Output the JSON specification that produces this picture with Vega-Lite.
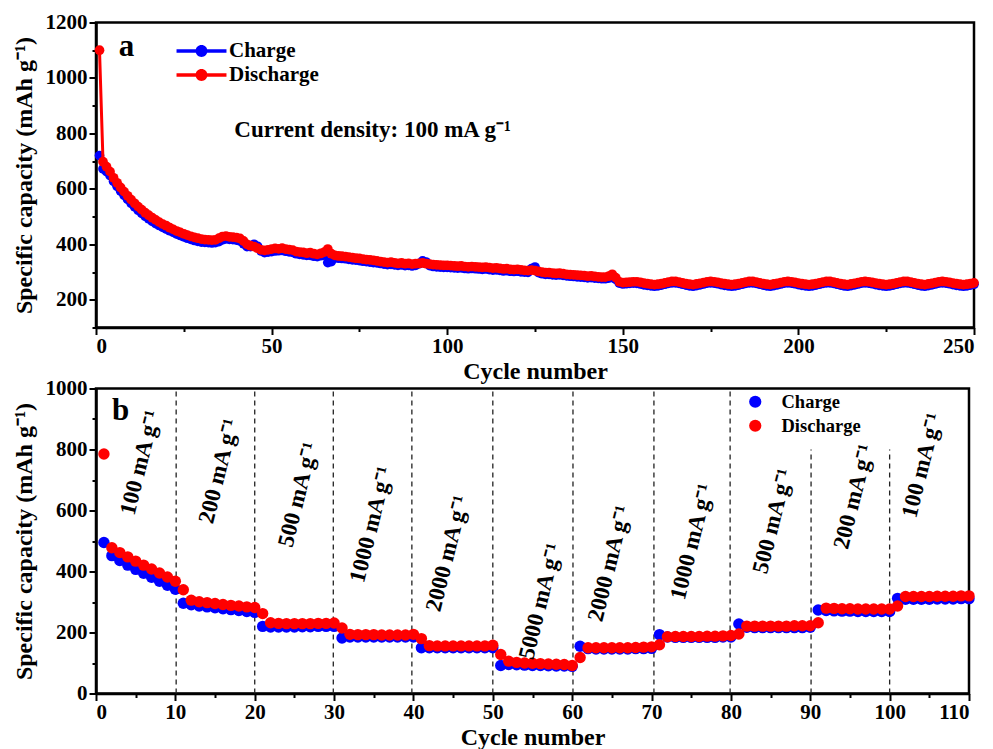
{
"$schema": "https://vega.github.io/schema/vega-lite/v6.json",
"background": "white",
"padding": {"left": 10, "top": 9.5, "right": 5, "bottom": 0},
"bounds": "flush",
"spacing": 61,
"config": {
  "font": "Liberation Serif",
  "view": {"stroke": "black", "strokeWidth": 2.5},
  "axis": {"labelFont": "Liberation Serif", "labelFontWeight": "bold", "labelFontSize": 21, "labelColor": "black", "titleFont": "Liberation Serif", "titleFontWeight": "bold", "titleFontSize": 24, "titleColor": "black", "domainColor": "black", "domainWidth": 2.5, "tickColor": "black", "tickWidth": 2, "grid": false, "labelOverlap": false, "format": "d", "tickCount": 60},
  "legend": {"labelFont": "Liberation Serif", "labelFontWeight": "bold", "labelColor": "black", "padding": 0, "title": null}
},
"resolve": {"scale": {"color": "independent"}, "legend": {"color": "independent"}},
"vconcat": [
{
  "width": 878, "height": 305,
  "data": {"values": [
{"c":1,"ch":720,"dc":1100},{"c":2,"ch":672,"dc":698},{"c":3,"ch":662,"dc":680},{"c":4,"ch":648,"dc":662},{"c":5,"ch":627,"dc":640},{"c":6,"ch":609,"dc":622},{"c":7,"ch":592,"dc":605},{"c":8,"ch":577,"dc":590},{"c":9,"ch":562,"dc":575},{"c":10,"ch":548,"dc":561},
{"c":11,"ch":535,"dc":548},{"c":12,"ch":523,"dc":536},{"c":13,"ch":512,"dc":525},{"c":14,"ch":501,"dc":514},{"c":15,"ch":492,"dc":505},{"c":16,"ch":483,"dc":496},{"c":17,"ch":475,"dc":488},{"c":18,"ch":468,"dc":480},{"c":19,"ch":461,"dc":473},{"c":20,"ch":455,"dc":467},
{"c":21,"ch":449,"dc":460},{"c":22,"ch":443,"dc":454},{"c":23,"ch":437,"dc":448},{"c":24,"ch":432,"dc":443},{"c":25,"ch":427,"dc":438},{"c":26,"ch":422,"dc":433},{"c":27,"ch":418,"dc":429},{"c":28,"ch":414,"dc":425},{"c":29,"ch":411,"dc":422},{"c":30,"ch":408,"dc":419},
{"c":31,"ch":407,"dc":417},{"c":32,"ch":406,"dc":416},{"c":33,"ch":405,"dc":415},{"c":34,"ch":406,"dc":416},{"c":35,"ch":410,"dc":422},{"c":36,"ch":416,"dc":428},{"c":37,"ch":420,"dc":430},{"c":38,"ch":418,"dc":427},{"c":39,"ch":417,"dc":426},{"c":40,"ch":415,"dc":424},
{"c":41,"ch":412,"dc":421},{"c":42,"ch":402,"dc":412},{"c":43,"ch":392,"dc":400},{"c":44,"ch":392,"dc":395},{"c":45,"ch":400,"dc":392},{"c":46,"ch":393,"dc":386},{"c":47,"ch":376,"dc":380},{"c":48,"ch":370,"dc":378},{"c":49,"ch":372,"dc":380},{"c":50,"ch":374,"dc":383},
{"c":51,"ch":376,"dc":385},{"c":52,"ch":377,"dc":384},{"c":53,"ch":378,"dc":386},{"c":54,"ch":375,"dc":383},{"c":55,"ch":373,"dc":381},{"c":56,"ch":371,"dc":379},{"c":57,"ch":366,"dc":374},{"c":58,"ch":364,"dc":372},{"c":59,"ch":362,"dc":371},{"c":60,"ch":360,"dc":368},
{"c":61,"ch":360,"dc":370},{"c":62,"ch":357,"dc":366},{"c":63,"ch":356,"dc":364},{"c":64,"ch":359,"dc":367},{"c":65,"ch":362,"dc":372},{"c":66,"ch":334,"dc":383},{"c":67,"ch":338,"dc":366},{"c":68,"ch":352,"dc":360},{"c":69,"ch":350,"dc":358},{"c":70,"ch":349,"dc":357},
{"c":71,"ch":348,"dc":356},{"c":72,"ch":346,"dc":354},{"c":73,"ch":344,"dc":352},{"c":74,"ch":343,"dc":350},{"c":75,"ch":341,"dc":349},{"c":76,"ch":339,"dc":347},{"c":77,"ch":338,"dc":345},{"c":78,"ch":336,"dc":344},{"c":79,"ch":334,"dc":342},{"c":80,"ch":333,"dc":340},
{"c":81,"ch":331,"dc":338},{"c":82,"ch":329,"dc":336},{"c":83,"ch":327,"dc":334},{"c":84,"ch":328,"dc":336},{"c":85,"ch":326,"dc":333},{"c":86,"ch":324,"dc":331},{"c":87,"ch":326,"dc":333},{"c":88,"ch":323,"dc":330},{"c":89,"ch":324,"dc":331},{"c":90,"ch":322,"dc":329},
{"c":91,"ch":324,"dc":330},{"c":92,"ch":330,"dc":331},{"c":93,"ch":340,"dc":333},{"c":94,"ch":336,"dc":330},{"c":95,"ch":323,"dc":329},{"c":96,"ch":320,"dc":327},{"c":97,"ch":319,"dc":326},{"c":98,"ch":318,"dc":325},{"c":99,"ch":317,"dc":324},{"c":100,"ch":317,"dc":324},
{"c":101,"ch":316,"dc":323},{"c":102,"ch":315,"dc":322},{"c":103,"ch":314,"dc":321},{"c":104,"ch":315,"dc":322},{"c":105,"ch":313,"dc":320},{"c":106,"ch":312,"dc":319},{"c":107,"ch":313,"dc":320},{"c":108,"ch":312,"dc":319},{"c":109,"ch":311,"dc":318},{"c":110,"ch":310,"dc":317},
{"c":111,"ch":311,"dc":318},{"c":112,"ch":309,"dc":316},{"c":113,"ch":307,"dc":314},{"c":114,"ch":308,"dc":315},{"c":115,"ch":306,"dc":313},{"c":116,"ch":304,"dc":311},{"c":117,"ch":305,"dc":312},{"c":118,"ch":303,"dc":310},{"c":119,"ch":302,"dc":309},{"c":120,"ch":303,"dc":310},
{"c":121,"ch":301,"dc":308},{"c":122,"ch":300,"dc":306},{"c":123,"ch":299,"dc":305},{"c":124,"ch":312,"dc":307},{"c":125,"ch":318,"dc":305},{"c":126,"ch":298,"dc":302},{"c":127,"ch":294,"dc":300},{"c":128,"ch":292,"dc":298},{"c":129,"ch":292,"dc":298},{"c":130,"ch":290,"dc":296},
{"c":131,"ch":289,"dc":295},{"c":132,"ch":290,"dc":296},{"c":133,"ch":288,"dc":294},{"c":134,"ch":286,"dc":292},{"c":135,"ch":285,"dc":291},{"c":136,"ch":284,"dc":290},{"c":137,"ch":283,"dc":289},{"c":138,"ch":282,"dc":288},{"c":139,"ch":281,"dc":287},{"c":140,"ch":279,"dc":285},
{"c":141,"ch":280,"dc":286},{"c":142,"ch":278,"dc":284},{"c":143,"ch":277,"dc":283},{"c":144,"ch":276,"dc":282},{"c":145,"ch":276,"dc":282},{"c":146,"ch":278,"dc":285},{"c":147,"ch":280,"dc":292},{"c":148,"ch":274,"dc":280},{"c":149,"ch":260,"dc":265},{"c":150,"ch":257,"dc":262},
{"c":151,"ch":258,"dc":263},{"c":152,"ch":259,"dc":264},{"c":153,"ch":260,"dc":265},{"c":154,"ch":259,"dc":265},{"c":155,"ch":257,"dc":263},{"c":156,"ch":254,"dc":260},{"c":157,"ch":252,"dc":258},{"c":158,"ch":250,"dc":256},{"c":159,"ch":249,"dc":255},{"c":160,"ch":250,"dc":256},
{"c":161,"ch":253,"dc":258},{"c":162,"ch":256,"dc":261},{"c":163,"ch":259,"dc":264},{"c":164,"ch":261,"dc":266},{"c":165,"ch":261,"dc":266},{"c":166,"ch":259,"dc":264},{"c":167,"ch":256,"dc":261},{"c":168,"ch":253,"dc":258},{"c":169,"ch":250,"dc":256},{"c":170,"ch":249,"dc":255},
{"c":171,"ch":251,"dc":257},{"c":172,"ch":254,"dc":259},{"c":173,"ch":257,"dc":262},{"c":174,"ch":260,"dc":265},{"c":175,"ch":261,"dc":266},{"c":176,"ch":260,"dc":265},{"c":177,"ch":258,"dc":263},{"c":178,"ch":255,"dc":260},{"c":179,"ch":252,"dc":258},{"c":180,"ch":250,"dc":256},
{"c":181,"ch":249,"dc":255},{"c":182,"ch":250,"dc":256},{"c":183,"ch":253,"dc":258},{"c":184,"ch":256,"dc":261},{"c":185,"ch":259,"dc":264},{"c":186,"ch":261,"dc":266},{"c":187,"ch":261,"dc":266},{"c":188,"ch":259,"dc":264},{"c":189,"ch":256,"dc":261},{"c":190,"ch":253,"dc":258},
{"c":191,"ch":250,"dc":256},{"c":192,"ch":249,"dc":255},{"c":193,"ch":251,"dc":257},{"c":194,"ch":254,"dc":259},{"c":195,"ch":257,"dc":262},{"c":196,"ch":260,"dc":265},{"c":197,"ch":261,"dc":266},{"c":198,"ch":260,"dc":265},{"c":199,"ch":258,"dc":263},{"c":200,"ch":255,"dc":260},
{"c":201,"ch":252,"dc":258},{"c":202,"ch":250,"dc":256},{"c":203,"ch":249,"dc":255},{"c":204,"ch":250,"dc":256},{"c":205,"ch":253,"dc":258},{"c":206,"ch":256,"dc":261},{"c":207,"ch":259,"dc":264},{"c":208,"ch":261,"dc":266},{"c":209,"ch":261,"dc":266},{"c":210,"ch":259,"dc":264},
{"c":211,"ch":256,"dc":261},{"c":212,"ch":253,"dc":258},{"c":213,"ch":250,"dc":256},{"c":214,"ch":249,"dc":255},{"c":215,"ch":251,"dc":257},{"c":216,"ch":254,"dc":259},{"c":217,"ch":257,"dc":262},{"c":218,"ch":260,"dc":265},{"c":219,"ch":261,"dc":266},{"c":220,"ch":260,"dc":265},
{"c":221,"ch":258,"dc":263},{"c":222,"ch":255,"dc":260},{"c":223,"ch":252,"dc":258},{"c":224,"ch":250,"dc":256},{"c":225,"ch":249,"dc":255},{"c":226,"ch":250,"dc":256},{"c":227,"ch":253,"dc":258},{"c":228,"ch":256,"dc":261},{"c":229,"ch":259,"dc":264},{"c":230,"ch":261,"dc":266},
{"c":231,"ch":261,"dc":266},{"c":232,"ch":259,"dc":264},{"c":233,"ch":256,"dc":261},{"c":234,"ch":253,"dc":258},{"c":235,"ch":250,"dc":256},{"c":236,"ch":249,"dc":255},{"c":237,"ch":251,"dc":257},{"c":238,"ch":254,"dc":259},{"c":239,"ch":257,"dc":262},{"c":240,"ch":260,"dc":265},
{"c":241,"ch":261,"dc":266},{"c":242,"ch":260,"dc":265},{"c":243,"ch":258,"dc":263},{"c":244,"ch":255,"dc":260},{"c":245,"ch":252,"dc":258},{"c":246,"ch":250,"dc":256},{"c":247,"ch":249,"dc":255},{"c":248,"ch":250,"dc":256},{"c":249,"ch":253,"dc":258},{"c":250,"ch":256,"dc":261}
  ]},
  "encoding": {
    "x": {"field": "c", "type": "quantitative", "scale": {"domain": [0, 250], "nice": false}, "title": "Cycle number",
      "axis": {"values": [0,25,50,75,100,125,150,175,200,225,250], "tickCount": 60, "labelExpr": "datum.value % 50 === 0 ? datum.label : ''", "tickSize": {"condition": {"test": "datum.value % 50 === 0", "value": 7}, "value": 4}, "labelPadding": 1, "titlePadding": 3}}
  },
  "layer": [
    {"mark": {"type": "line", "color": "#0000FF", "strokeWidth": 3},
     "encoding": {"y": {"field": "ch", "type": "quantitative", "scale": {"domain": [100, 1200], "nice": false, "zero": false}, "title": "Specific capacity (mAh g⁻¹)",
       "axis": {"values": [100,200,300,400,500,600,700,800,900,1000,1100,1200], "tickCount": 60, "labelExpr": "datum.value % 200 === 0 ? datum.label : ''", "tickSize": {"condition": {"test": "datum.value % 200 === 0", "value": 7}, "value": 4}, "labelPadding": 2, "titlePadding": 9}}}},
    {"mark": {"type": "point", "filled": true, "size": 95, "opacity": 1},
     "encoding": {"y": {"field": "ch", "type": "quantitative", "title": "Specific capacity (mAh g⁻¹)"},
       "color": {"datum": "Charge", "type": "nominal", "scale": {"domain": ["Charge", "Discharge"], "range": ["#0000FF", "#FF0000"]},
         "legend": {"orient": "none", "legendX": 92, "legendY": 15, "symbolType": "M-1.85,-0.13H1.85V0.13H-1.85Z M0.44,0A0.44,0.44,0,1,1,-0.44,0A0.44,0.44,0,1,1,0.44,0Z", "symbolSize": 729, "symbolStrokeWidth": 0, "labelOffset": 14, "labelFontSize": 21, "rowPadding": 0}}}},
    {"mark": {"type": "line", "color": "#FF0000", "strokeWidth": 3},
     "encoding": {"y": {"field": "dc", "type": "quantitative", "title": "Specific capacity (mAh g⁻¹)"}}},
    {"mark": {"type": "point", "filled": true, "size": 95, "opacity": 1},
     "encoding": {"y": {"field": "dc", "type": "quantitative", "title": "Specific capacity (mAh g⁻¹)"},
       "color": {"datum": "Discharge", "type": "nominal"}}},
    {"data": {"values": [{"c": 8.7, "v": 1112, "t": "a"}]},
     "mark": {"type": "text", "font": "Liberation Serif", "fontWeight": "bold", "fontSize": 31, "align": "center", "baseline": "middle", "color": "black"},
     "encoding": {"y": {"field": "v", "type": "quantitative", "title": "Specific capacity (mAh g⁻¹)"}, "text": {"field": "t", "type": "nominal"}}},
    {"data": {"values": [{"c": 39.4, "v": 811, "t": "Current density: 100 mA g⁻¹"}]},
     "mark": {"type": "text", "font": "Liberation Serif", "fontWeight": "bold", "fontSize": 23, "align": "left", "baseline": "middle", "color": "black"},
     "encoding": {"y": {"field": "v", "type": "quantitative", "title": "Specific capacity (mAh g⁻¹)"}, "text": {"field": "t", "type": "nominal"}}}
  ]
},
{
  "width": 873, "height": 305,
  "data": {"values": [
{"c":1,"ch":495,"dc":785},{"c":2,"ch":452,"dc":478},{"c":3,"ch":436,"dc":462},{"c":4,"ch":421,"dc":448},{"c":5,"ch":407,"dc":434},{"c":6,"ch":394,"dc":421},{"c":7,"ch":381,"dc":408},{"c":8,"ch":368,"dc":395},{"c":9,"ch":355,"dc":382},{"c":10,"ch":342,"dc":368},
{"c":11,"ch":296,"dc":340},{"c":12,"ch":291,"dc":306},{"c":13,"ch":287,"dc":301},{"c":14,"ch":284,"dc":298},{"c":15,"ch":281,"dc":295},{"c":16,"ch":278,"dc":292},{"c":17,"ch":275,"dc":289},{"c":18,"ch":272,"dc":287},{"c":19,"ch":269,"dc":284},{"c":20,"ch":266,"dc":282},
{"c":21,"ch":220,"dc":262},{"c":22,"ch":218,"dc":232},{"c":23,"ch":218,"dc":230},{"c":24,"ch":218,"dc":229},{"c":25,"ch":218,"dc":229},{"c":26,"ch":219,"dc":229},{"c":27,"ch":219,"dc":229},{"c":28,"ch":220,"dc":230},{"c":29,"ch":220,"dc":230},{"c":30,"ch":220,"dc":231},
{"c":31,"ch":182,"dc":215},{"c":32,"ch":185,"dc":194},{"c":33,"ch":185,"dc":193},{"c":34,"ch":185,"dc":193},{"c":35,"ch":185,"dc":193},{"c":36,"ch":185,"dc":192},{"c":37,"ch":185,"dc":192},{"c":38,"ch":185,"dc":192},{"c":39,"ch":185,"dc":192},{"c":40,"ch":185,"dc":194},
{"c":41,"ch":150,"dc":180},{"c":42,"ch":150,"dc":157},{"c":43,"ch":150,"dc":156},{"c":44,"ch":150,"dc":156},{"c":45,"ch":150,"dc":156},{"c":46,"ch":150,"dc":156},{"c":47,"ch":150,"dc":156},{"c":48,"ch":150,"dc":156},{"c":49,"ch":150,"dc":156},{"c":50,"ch":150,"dc":158},
{"c":51,"ch":92,"dc":128},{"c":52,"ch":95,"dc":106},{"c":53,"ch":94,"dc":102},{"c":54,"ch":93,"dc":100},{"c":55,"ch":92,"dc":99},{"c":56,"ch":92,"dc":98},{"c":57,"ch":91,"dc":97},{"c":58,"ch":90,"dc":96},{"c":59,"ch":90,"dc":95},{"c":60,"ch":89,"dc":92},
{"c":61,"ch":155,"dc":118},{"c":62,"ch":147,"dc":150},{"c":63,"ch":146,"dc":150},{"c":64,"ch":146,"dc":150},{"c":65,"ch":146,"dc":150},{"c":66,"ch":146,"dc":150},{"c":67,"ch":146,"dc":150},{"c":68,"ch":147,"dc":151},{"c":69,"ch":147,"dc":152},{"c":70,"ch":148,"dc":153},
{"c":71,"ch":193,"dc":160},{"c":72,"ch":185,"dc":186},{"c":73,"ch":184,"dc":187},{"c":74,"ch":184,"dc":187},{"c":75,"ch":184,"dc":187},{"c":76,"ch":184,"dc":187},{"c":77,"ch":184,"dc":188},{"c":78,"ch":184,"dc":188},{"c":79,"ch":185,"dc":189},{"c":80,"ch":185,"dc":190},
{"c":81,"ch":228,"dc":195},{"c":82,"ch":217,"dc":221},{"c":83,"ch":216,"dc":221},{"c":84,"ch":216,"dc":221},{"c":85,"ch":216,"dc":221},{"c":86,"ch":216,"dc":221},{"c":87,"ch":216,"dc":221},{"c":88,"ch":216,"dc":222},{"c":89,"ch":216,"dc":222},{"c":90,"ch":217,"dc":222},
{"c":91,"ch":274,"dc":232},{"c":92,"ch":272,"dc":280},{"c":93,"ch":271,"dc":279},{"c":94,"ch":270,"dc":278},{"c":95,"ch":270,"dc":278},{"c":96,"ch":269,"dc":277},{"c":97,"ch":269,"dc":277},{"c":98,"ch":269,"dc":277},{"c":99,"ch":269,"dc":277},{"c":100,"ch":269,"dc":277},
{"c":101,"ch":312,"dc":287},{"c":102,"ch":309,"dc":318},{"c":103,"ch":309,"dc":318},{"c":104,"ch":309,"dc":318},{"c":105,"ch":309,"dc":318},{"c":106,"ch":310,"dc":319},{"c":107,"ch":310,"dc":319},{"c":108,"ch":310,"dc":319},{"c":109,"ch":311,"dc":320},{"c":110,"ch":311,"dc":320}
  ]},
  "encoding": {
    "x": {"field": "c", "type": "quantitative", "scale": {"domain": [0, 110], "nice": false}, "title": "Cycle number",
      "axis": {"values": [0,5,10,15,20,25,30,35,40,45,50,55,60,65,70,75,80,85,90,95,100,105,110], "tickCount": 60, "labelExpr": "datum.value % 10 === 0 ? datum.label : ''", "tickSize": {"condition": {"test": "datum.value % 10 === 0", "value": 7}, "value": 4}, "labelPadding": 1, "titlePadding": 3}}
  },
  "layer": [
    {"data": {"values": [{"c": 10.1, "b": 0, "top": 1000}, {"c": 20.0, "b": 0, "top": 1000}, {"c": 29.9, "b": 0, "top": 1000}, {"c": 39.8, "b": 0, "top": 1000}, {"c": 50.0, "b": 0, "top": 1000}, {"c": 60.1, "b": 0, "top": 1000}, {"c": 70.3, "b": 0, "top": 1000}, {"c": 79.9, "b": 0, "top": 1000}, {"c": 90.1, "b": 0, "top": 800}, {"c": 100.0, "b": 0, "top": 800}]},
     "mark": {"type": "rule", "color": "#222222", "strokeWidth": 1.3, "strokeDash": [5, 4]},
     "encoding": {"y": {"field": "b", "type": "quantitative", "scale": {"domain": [0, 1000], "nice": false}, "title": "Specific capacity (mAh g⁻¹)",
       "axis": {"values": [0,100,200,300,400,500,600,700,800,900,1000], "tickCount": 60, "labelExpr": "datum.value % 200 === 0 ? datum.label : ''", "tickSize": {"condition": {"test": "datum.value % 200 === 0", "value": 7}, "value": 4}, "labelPadding": 2, "titlePadding": 9}},
       "y2": {"field": "top"}}},
    {"mark": {"type": "point", "filled": true, "size": 130, "opacity": 1},
     "encoding": {"y": {"field": "ch", "type": "quantitative", "title": "Specific capacity (mAh g⁻¹)"},
       "color": {"datum": "Charge", "type": "nominal", "scale": {"domain": ["Charge", "Discharge"], "range": ["#0000FF", "#FF0000"]},
         "legend": {"orient": "none", "legendX": 650, "legendY": 4, "symbolType": "circle", "symbolSize": 150, "symbolStrokeWidth": 0, "labelOffset": 17, "labelFontSize": 18.5, "rowPadding": 5}}}},
    {"mark": {"type": "point", "filled": true, "size": 130, "opacity": 1},
     "encoding": {"y": {"field": "dc", "type": "quantitative", "title": "Specific capacity (mAh g⁻¹)"},
       "color": {"datum": "Discharge", "type": "nominal"}}},
    {"data": {"values": [{"c": 3.1, "v": 925, "t": "b"}]},
     "mark": {"type": "text", "font": "Liberation Serif", "fontWeight": "bold", "fontSize": 31, "align": "center", "baseline": "middle", "color": "black"},
     "encoding": {"y": {"field": "v", "type": "quantitative", "title": "Specific capacity (mAh g⁻¹)"}, "text": {"field": "t", "type": "nominal"}}},
    {"data": {"values": [
      {"c": 5.6, "v": 757, "t": "100 mA g⁻¹"},
      {"c": 15.5, "v": 729, "t": "200 mA g⁻¹"},
      {"c": 25.5, "v": 652, "t": "500 mA g⁻¹"},
      {"c": 34.7, "v": 554, "t": "1000 mA g⁻¹"},
      {"c": 44.3, "v": 459, "t": "2000 mA g⁻¹"},
      {"c": 56.0, "v": 302, "t": "5000 mA g⁻¹"},
      {"c": 64.7, "v": 426, "t": "2000 mA g⁻¹"},
      {"c": 75.1, "v": 497, "t": "1000 mA g⁻¹"},
      {"c": 85.3, "v": 565, "t": "500 mA g⁻¹"},
      {"c": 95.5, "v": 645, "t": "200 mA g⁻¹"},
      {"c": 104.1, "v": 748, "t": "100 mA g⁻¹"}]},
     "mark": {"type": "text", "font": "Liberation Serif", "fontWeight": "bold", "fontSize": 23, "align": "center", "baseline": "middle", "angle": 284, "color": "black"},
     "encoding": {"y": {"field": "v", "type": "quantitative", "title": "Specific capacity (mAh g⁻¹)"}, "text": {"field": "t", "type": "nominal"}}}
  ]
}
]
}
